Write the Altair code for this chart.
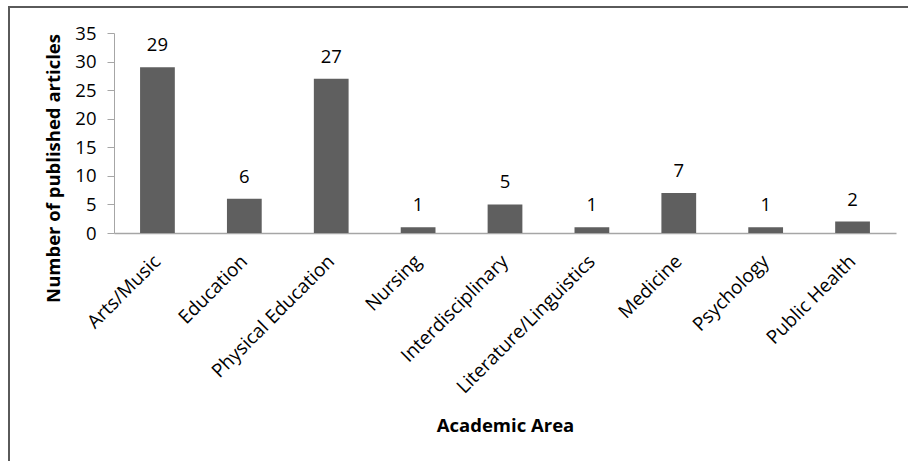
import altair as alt
import pandas as pd

# Articles published per academic area
areas = [
    "Arts/Music",
    "Education",
    "Physical Education",
    "Nursing",
    "Interdisciplinary",
    "Literature/Linguistics",
    "Medicine",
    "Psychology",
    "Public Health",
]
articles = [29, 6, 27, 1, 5, 1, 7, 1, 2]
y_ticks = [0, 5, 10, 15, 20, 25, 30, 35]

df = pd.DataFrame({"area": areas, "articles": articles})

FONT = "Open Sans"
BAR = "#5f5f5f"
AXIS = "#a6a6a6"

x_axis = alt.Axis(
    title="Academic Area",
    labelAngle=-45,
    labelAlign="right",
    labelBaseline="middle",
    labelPadding=25,
    labelFontSize=19,
    labelLimit=400,
    ticks=False,
    domainColor=AXIS,
    domainWidth=1.5,
    titleFont=FONT,
    titleFontSize=18.5,
    titleFontWeight="bold",
    titleColor="#000000",
    titleY=192,
    titleBaseline="middle",
)
y_axis = alt.Axis(
    title="Number of published articles",
    values=y_ticks,
    labelOverlap=False,
    labelFontSize=18.5,
    grid=False,
    tickSize=7,
    tickColor=AXIS,
    domainColor=AXIS,
    labelPadding=11,
    titleFont=FONT,
    titleFontSize=18.5,
    titleFontWeight="bold",
    titleColor="#000000",
    titleAngle=-90,
    titleX=-61,
    titleY=135,
    titleAlign="center",
    titleBaseline="middle",
)

x_scale = alt.Scale(paddingInner=0.6, paddingOuter=0.3)
y_scale = alt.Scale(domain=[0, 35], nice=False)

x_enc = alt.X("area:N", sort=areas, scale=x_scale, axis=x_axis)
y_enc = alt.Y("articles:Q", scale=y_scale, axis=y_axis)

base = alt.Chart(df)

bars = base.mark_bar(color=BAR).encode(x=x_enc, y=y_enc)

labels = base.mark_text(
    font=FONT, fontSize=18.5, color="#000000", baseline="alphabetic", dy=-16
).encode(x=x_enc, y=y_enc, text="articles:Q")

# Outer chart frame
frame = base.mark_rect(
    filled=False, stroke="#5a5a5a", strokeWidth=2, clip=False
).encode(
    x=alt.value(-105), x2=alt.value(900), y=alt.value(-26), y2=alt.value(500)
)

chart = (
    alt.layer(frame, bars, labels)
    .properties(
        width=782,
        height=200,
        autosize=alt.AutoSizeParams(type="none"),
        padding={"left": 114, "top": 33, "right": 12, "bottom": 228},
        background="white",
    )
    .configure_view(stroke=None)
    .configure_axis(
        labelFont=FONT,
        labelColor="#000000",
    )
)

chart.save("out.html", embed_options={"renderer": "svg", "actions": False})
